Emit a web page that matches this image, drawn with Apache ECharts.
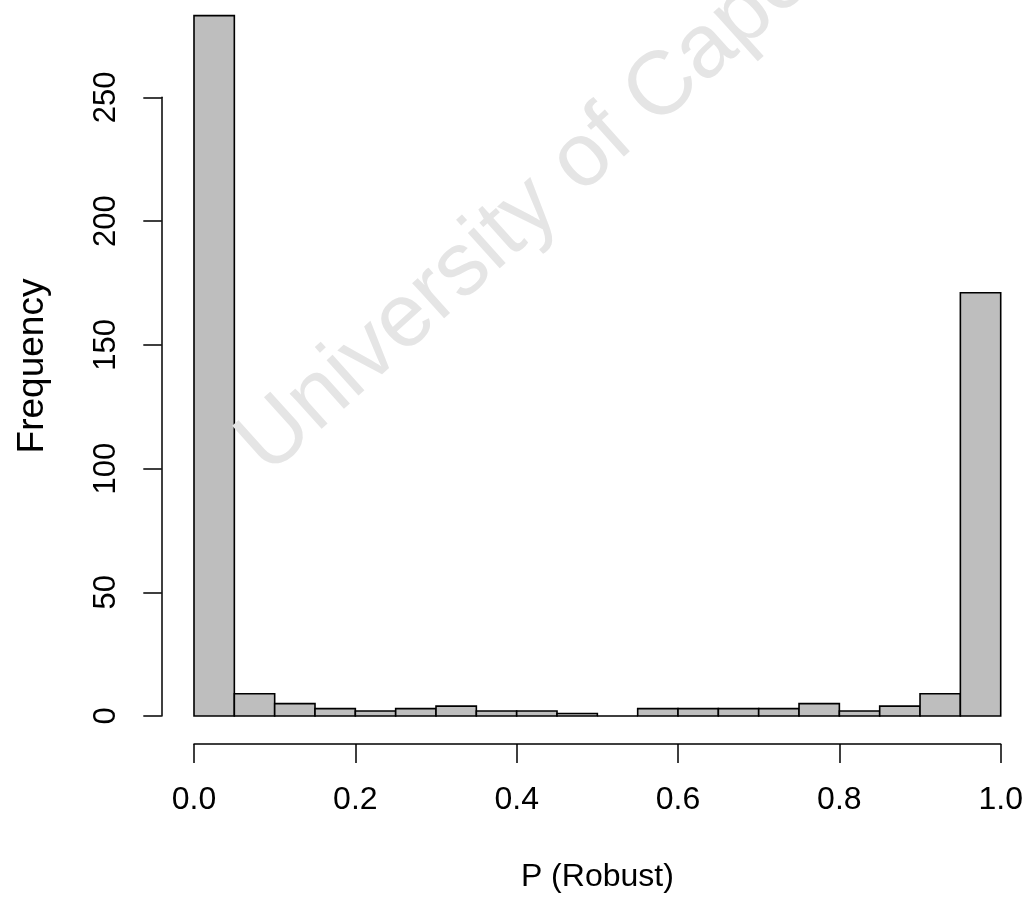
<!DOCTYPE html>
<html><head><meta charset="utf-8">
<script src="https://cdn.jsdelivr.net/npm/echarts@6/dist/echarts.min.js"></script>
<style>html,body{margin:0;padding:0;background:#fff}#c{width:1026px;height:900px}</style>
</head><body><div id="c"></div>
<script>
// Histogram bins (P (Robust)) and frequencies
const binStarts = [0.00,0.05,0.10,0.15,0.20,0.25,0.30,0.35,0.40,0.45,0.50,0.55,0.60,0.65,0.70,0.75,0.80,0.85,0.90,0.95];
const binEnds   = [0.05,0.10,0.15,0.20,0.25,0.30,0.35,0.40,0.45,0.50,0.55,0.60,0.65,0.70,0.75,0.80,0.85,0.90,0.95,1.00];
const counts    = [283,9,5,3,2,3,4,2,2,1,0,3,3,3,3,5,2,4,9,171];
const xTickLabels = ['0.0','0.2','0.4','0.6','0.8','1.0'];
const yTickLabels = ['0','50','100','150','200','250'];
const xTitle = 'P (Robust)';
const yTitle = 'Frequency';
const watermark = 'University of Cape Town';

const FONT = 'Liberation Sans, Arial, sans-serif';
const chart = echarts.init(document.getElementById('c'), null, {renderer:'canvas'});
const data = binStarts.map((s,i)=>[s, binEnds[i], counts[i]]);

chart.setOption({
  animation:false,
  backgroundColor:'#ffffff',
  grid:{left:194, right:25.3, top:97.3, bottom:184},
  xAxis:{
    type:'value', min:0, max:1, interval:0.2, offset:28,
    axisLine:{show:true, onZero:false, lineStyle:{color:'#000', width:1.5}},
    axisTick:{show:true, length:19, lineStyle:{color:'#000', width:1.5}},
    axisLabel:{margin:40, fontSize:32, fontFamily:FONT, color:'#000',
      formatter:(v)=>{const i=Math.round(v/0.2); return xTickLabels[i]!==undefined?xTickLabels[i]:'';}},
    splitLine:{show:false},
    name:xTitle, nameLocation:'middle', nameGap:117,
    nameTextStyle:{fontSize:32, fontFamily:FONT, color:'#000'}
  },
  yAxis:{
    type:'value', min:0, max:250, interval:50, offset:32.3,
    axisLine:{show:true, onZero:false, lineStyle:{color:'#000', width:1.5}},
    axisTick:{show:true, length:18.4, lineStyle:{color:'#000', width:1.5}},
    axisLabel:{margin:40, rotate:90, fontSize:31, fontFamily:FONT, color:'#000',
      formatter:(v)=>{const i=Math.round(v/50); return yTickLabels[i]!==undefined?yTickLabels[i]:'';}},
    splitLine:{show:false}
  },
  graphic:[
    {type:'text', x:33, y:366, rotation:Math.PI/2,
      style:{text:yTitle, fontSize:37, fontFamily:FONT, fill:'#000', textAlign:'center', textVerticalAlign:'middle'}},
    {type:'text', x:252, y:458, rotation:42*Math.PI/180, z:100,
      style:{text:watermark, fontSize:90, fontFamily:FONT, fill:'#e5e5e5', textAlign:'left', textVerticalAlign:'middle'}}
  ],
  series:[{
    type:'custom', clip:false,
    encode:{x:[0,1], y:2},
    data:data,
    renderItem:function(params, api){
      const p0 = api.coord([api.value(0), api.value(2)]);
      const p1 = api.coord([api.value(1), 0]);
      return {type:'rect',
        shape:{x:p0[0], y:p0[1], width:p1[0]-p0[0], height:p1[1]-p0[1]},
        style:{fill:'#bebebe', stroke:'#000', lineWidth:1.6}};
    }
  }]
});
</script></body></html>
